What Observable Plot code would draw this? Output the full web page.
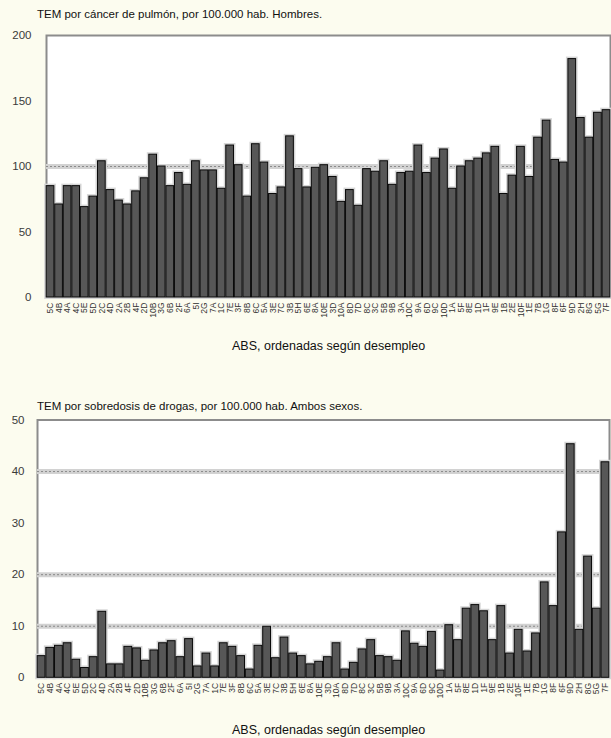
<!DOCTYPE html>
<html><head><meta charset="utf-8">
<script src="https://cdn.jsdelivr.net/npm/d3@7"></script>
<script src="https://cdn.jsdelivr.net/npm/@observablehq/plot@0.6"></script>
<style>
html,body{margin:0;padding:0;}
body{background:#fcfcef;width:611px;height:738px;position:relative;overflow:hidden;font-family:"Liberation Sans",Arial,sans-serif;}
.t{position:absolute;font-size:11.5px;line-height:13px;color:#111;white-space:nowrap;}
.xt{position:absolute;font-size:12.5px;line-height:14px;color:#111;white-space:nowrap;left:232px;}
.p{position:absolute;left:0;}
</style></head>
<body>
<div class="t" style="left:37px;top:8px">TEM por cáncer de pulmón, por 100.000 hab. Hombres.</div>
<div class="p" id="c1" style="top:30px"></div>
<div class="xt" style="top:339px">ABS, ordenadas según desempleo</div>
<div class="t" style="left:37px;top:400px">TEM por sobredosis de drogas, por 100.000 hab. Ambos sexos.</div>
<div class="p" id="c2" style="top:410px"></div>
<div class="xt" style="top:723px">ABS, ordenadas según desempleo</div>
<script>
const abs = ["5C","4B","4A","4C","5E","5D","2C","4D","2A","2B","4F","2D","10B","3G","6B","2F","6A","5I","2G","7A","1C","7E","3F","8B","6C","5A","3E","7C","3B","5H","6E","8A","10E","3D","10A","8D","7D","8C","3C","5B","9B","3A","10C","9A","6D","9C","10D","1A","5F","8E","1D","1F","9E","1B","2E","10F","1E","7B","1G","8F","6F","9D","2H","8G","5G","7F"];

const pulmon = [85,71,85,85,69,77,104,82,74,71,81,91,109,100,85,95,86,104,97,97,83,116,101,77,117,103,79,84,123,98,84,99,101,92,73,82,70,98,96,104,86,95,96,116,95,106,113,83,100,104,106,110,115,79,93,115,92,122,135,105,103,182,137,122,141,143];

const drogas = [4.2,5.8,6.2,6.7,3.5,1.9,4.0,12.8,2.6,2.6,6.0,5.7,3.3,5.3,6.7,7.1,4.0,7.5,2.2,4.7,2.2,6.7,6.0,4.2,1.6,6.2,9.9,3.8,7.8,4.7,4.2,2.6,3.1,4.0,6.7,1.6,2.9,5.5,7.3,4.2,4.0,3.3,9.0,6.6,6.0,8.9,1.4,10.2,7.3,13.4,14.1,12.9,7.3,13.9,4.7,9.3,5.1,8.6,18.5,13.9,28.2,45.3,9.3,23.5,13.4,41.8];

const ticksPulmon = [0,50,100,150,200];
const gridPulmon = [100];
const ticksDrogas = [0,10,20,30,40,50];
const gridDrogas = [10,20,40];

const font = '"Liberation Sans", Arial, sans-serif';

function panel({values, yMax, ticks, grid, height, mt, mb, ml, mr, tickPad}) {
  const data = abs.map((a, i) => ({abs: a, v: values[i]}));
  return Plot.plot({
    width: 611, height,
    marginTop: mt, marginBottom: mb, marginLeft: ml, marginRight: mr,
    style: {background: "transparent", fontFamily: font, overflow: "visible"},
    x: {domain: abs, paddingInner: 0.1, paddingOuter: 0.02, label: null, axis: null},
    y: {domain: [0, yMax], label: null, axis: null},
    marks: [
      Plot.frame({fill: "white", stroke: "#8c8c8c", strokeWidth: 2}),
      Plot.ruleY(grid, {stroke: "#d2d2d2", strokeWidth: 5}),
      Plot.ruleY(grid, {stroke: "#8a8a8a", strokeWidth: 1, strokeDasharray: "2,2"}),
      Plot.barY(data, {x: "abs", y: "v", fill: "none", stroke: "#d6d6d6", strokeWidth: 4}),
      Plot.barY(data, {x: "abs", y: "v", fill: "#575757", stroke: "#0a0a0a", strokeWidth: 1}),
      Plot.axisY(ticks, {anchor: "left", tickSize: 0, tickPadding: tickPad, fontSize: 11.5, fill: "#3a3a3a", label: null}),
      Plot.axisX({anchor: "bottom", tickSize: 0, tickPadding: 5, tickRotate: -90, fontSize: 8.5, fill: "#333", label: null})
    ]
  });
}

document.getElementById("c1").append(panel({
  values: pulmon, yMax: 200, ticks: ticksPulmon, grid: gridPulmon,
  height: 300, mt: 5, mb: 33, ml: 46, mr: 1, tickPad: 15
}));
document.getElementById("c2").append(panel({
  values: drogas, yMax: 50, ticks: ticksDrogas, grid: gridDrogas,
  height: 290, mt: 9.5, mb: 22.7, ml: 37, mr: 2, tickPad: 13
}));
</script>
</body></html>
